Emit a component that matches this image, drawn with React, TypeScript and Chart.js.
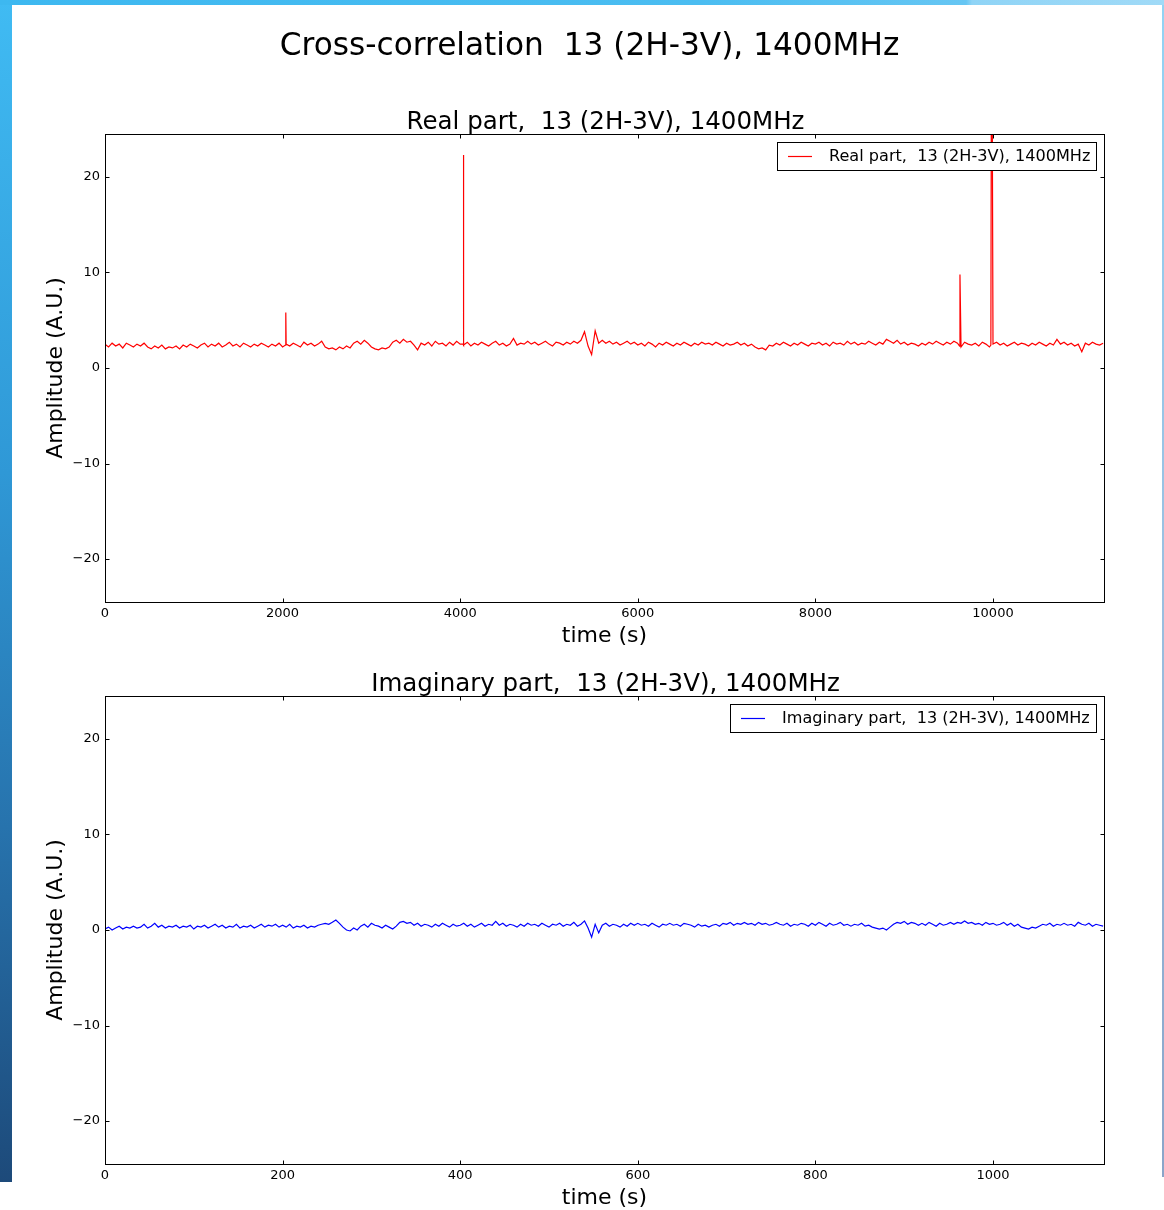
import React, { useEffect, useRef } from 'react';
import { Chart, registerables } from 'chart.js';

Chart.register(...registerables);

const FONT = '"DejaVu Sans", "Liberation Sans", sans-serif';

// ---- text ----
const mainTitle = 'Cross-correlation  13 (2H-3V), 1400MHz';
const realTitle = 'Real part,  13 (2H-3V), 1400MHz';
const imagTitle = 'Imaginary part,  13 (2H-3V), 1400MHz';
const yAxisTitle = 'Amplitude (A.U.)';
const xAxisTitle = 'time (s)';

// ---- axes ----
const yTicks = [-20, -10, 0, 10, 20];
const realXTicks = [0, 2000, 4000, 6000, 8000, 10000];
const imagXTicks = [0, 200, 400, 600, 800, 1000];
const yLimits = [-24.5, 24.5];
const realXLimits = [0, 11250];
const imagXLimits = [0, 1125];

// ---- real part: sampling interval (s) and samples ----
const realStep = 40;
const realValues = [
  2.5, 2.2, 2.6, 2.3, 2.5, 2.1, 2.6, 2.4, 2.2, 2.5,
  2.3, 2.6, 2.2, 2.0, 2.3, 2.1, 2.4, 2.0, 2.2, 2.1,
  2.3, 2.0, 2.4, 2.2, 2.5, 2.3, 2.1, 2.4, 2.6, 2.2,
  2.5, 2.3, 2.6, 2.2, 2.4, 2.7, 2.3, 2.5, 2.2, 2.6,
  2.4, 2.2, 2.5, 2.3, 2.6, 2.4, 2.2, 2.5, 2.3, 2.6,
  2.2, 2.5, 2.3, 2.6, 2.4, 2.2, 2.7, 2.4, 2.6, 2.3,
  2.5, 2.8, 2.2, 2.0, 2.1, 1.9, 2.2, 2.0, 2.3, 2.1,
  2.6, 2.8, 2.5, 2.9, 2.6, 2.2, 2.0, 1.9, 2.1, 2.0,
  2.2, 2.7, 2.9, 2.6, 3.0, 2.7, 2.8, 2.4, 1.9, 2.6,
  2.4, 2.7, 2.3, 2.8, 2.5, 2.6, 2.3, 2.7, 2.4, 2.8,
  2.5, 2.4, 2.7, 2.3, 2.6, 2.4, 2.7, 2.5, 2.3, 2.6,
  2.8, 2.4, 2.6, 2.3, 2.5, 3.1, 2.4, 2.6, 2.5, 2.8,
  2.5, 2.7, 2.4, 2.6, 2.8, 2.5, 2.3, 2.7, 2.6, 2.4,
  2.7, 2.5, 2.8, 2.6, 2.9, 3.8, 2.3, 1.4, 3.9, 2.6,
  2.9, 2.6, 2.8, 2.5, 2.7, 2.4, 2.6, 2.8, 2.5, 2.7,
  2.4, 2.6, 2.3, 2.7, 2.5, 2.2, 2.6, 2.4, 2.7, 2.5,
  2.3, 2.6, 2.4, 2.7, 2.5, 2.3, 2.6, 2.4, 2.7, 2.5,
  2.6, 2.4, 2.7, 2.5, 2.3, 2.6, 2.4, 2.5, 2.7, 2.4,
  2.6, 2.3, 2.5, 2.2, 2.0, 2.1, 1.9, 2.4, 2.3, 2.6,
  2.4, 2.7, 2.5, 2.3, 2.6, 2.4, 2.7, 2.5, 2.3, 2.6,
  2.5, 2.7, 2.4, 2.6, 2.3, 2.7, 2.5, 2.6, 2.4, 2.8,
  2.5, 2.7, 2.4, 2.6, 2.5, 2.8, 2.6, 2.4, 2.7, 2.5,
  3.0, 2.8, 2.6, 2.9, 2.5, 2.7, 2.4, 2.6, 2.5, 2.3,
  2.6, 2.4, 2.7, 2.5, 2.8, 2.6, 2.4, 2.7, 2.5, 2.8,
  2.6, 2.2, 2.7, 2.5, 2.4, 2.6, 2.3, 2.7, 2.5, 2.2,
  2.5, 2.7, 2.4, 2.6, 2.3, 2.5, 2.7, 2.4, 2.6, 2.5,
  2.3, 2.6, 2.4, 2.7, 2.5, 2.3, 2.6, 2.4, 3.0, 2.5,
  2.7, 2.4, 2.6, 2.3, 2.5, 1.7, 2.6, 2.4, 2.7, 2.5,
  2.4, 2.6,
];
// narrow spikes between regular samples
const realSpikeTimes = [2032, 2036, 4032, 4036, 9624, 9628, 9976, 9982, 9990];
const realSpikeValues = [2.4, 5.8, 2.5, 22.3, 2.3, 9.8, 2.4, 32, 32];

// ---- imaginary part: sampling interval (s) and samples ----
const imagStep = 4;
const imagValues = [
  0.1, 0.3, 0.0, 0.2, 0.4, 0.1, 0.3, 0.2, 0.4, 0.2,
  0.3, 0.6, 0.2, 0.4, 0.7, 0.3, 0.5, 0.2, 0.4, 0.3,
  0.5, 0.2, 0.4, 0.3, 0.5, 0.1, 0.4, 0.3, 0.5, 0.2,
  0.4, 0.6, 0.3, 0.5, 0.2, 0.4, 0.3, 0.6, 0.2, 0.4,
  0.3, 0.5, 0.2, 0.4, 0.6, 0.3, 0.5, 0.4, 0.6, 0.3,
  0.5, 0.3, 0.6, 0.2, 0.4, 0.3, 0.5, 0.2, 0.4, 0.3,
  0.5, 0.6, 0.7, 0.6, 0.8, 1.05, 0.7, 0.3, 0.0, -0.1,
  0.2, 0.0, 0.4, 0.6, 0.3, 0.7, 0.5, 0.4, 0.2, 0.5,
  0.3, 0.1, 0.4, 0.8, 0.9, 0.7, 0.8, 0.5, 0.7, 0.4,
  0.6, 0.5, 0.3, 0.6, 0.4, 0.7, 0.5, 0.3, 0.6, 0.4,
  0.5, 0.7, 0.4, 0.6, 0.3, 0.5, 0.7, 0.4, 0.6, 0.5,
  0.9, 0.5, 0.7, 0.4, 0.6, 0.5, 0.3, 0.6, 0.4, 0.7,
  0.5, 0.6, 0.4, 0.7, 0.5, 0.3, 0.6, 0.5, 0.7, 0.4,
  0.6, 0.5, 0.8, 0.4, 0.6, 0.95, 0.2, -0.75, 0.6, -0.3,
  0.5, 0.7, 0.4, 0.6, 0.5, 0.3, 0.6, 0.4, 0.7, 0.5,
  0.7, 0.5, 0.6, 0.4, 0.7, 0.5, 0.3, 0.6, 0.5, 0.7,
  0.5, 0.6, 0.4, 0.7, 0.6, 0.5, 0.3, 0.6, 0.4, 0.5,
  0.3, 0.5, 0.6, 0.4, 0.7, 0.6, 0.8, 0.5, 0.7, 0.6,
  0.8, 0.6, 0.7, 0.5, 0.8, 0.6, 0.7, 0.5, 0.6, 0.8,
  0.6, 0.5, 0.7, 0.4, 0.6, 0.5, 0.7, 0.6, 0.4, 0.7,
  0.5, 0.8, 0.6, 0.4, 0.7, 0.5, 0.6, 0.8, 0.5, 0.6,
  0.4, 0.6, 0.5, 0.7, 0.4, 0.5, 0.3, 0.2, 0.1, 0.2,
  0.0, 0.3, 0.6, 0.8, 0.7, 0.9, 0.6, 0.8, 0.7, 0.5,
  0.7, 0.5, 0.8, 0.6, 0.4, 0.7, 0.5, 0.6, 0.8, 0.6,
  0.8, 0.7, 0.95, 0.7, 0.8, 0.6, 0.7, 0.5, 0.8, 0.6,
  0.7, 0.5, 0.6, 0.8, 0.5, 0.7, 0.4, 0.6, 0.3, 0.2,
  0.1, 0.3, 0.2, 0.4, 0.6, 0.5, 0.7, 0.4, 0.6, 0.5,
  0.7, 0.5, 0.6, 0.4, 0.8, 0.6, 0.5, 0.7, 0.4, 0.6,
  0.5, 0.4,
];

type Pt = { x: number; y: number };

function buildPoints(step: number, values: number[], extraT: number[] = [], extraV: number[] = []): Pt[] {
  const pts: Pt[] = values.map((v, i) => ({ x: i * step, y: v }));
  extraT.forEach((t, i) => pts.push({ x: t, y: extraV[i] }));
  pts.sort((a, b) => a.x - b.x);
  return pts;
}

const fmt = (v: number | string) => {
  const n = Number(v);
  return n < 0 ? '\u2212' + Math.abs(n) : String(n);
};

// Titles drawn on canvas
const titlesPlugin = {
  id: 'figTitles',
  afterDraw(chart: any, _args: any, opts: any) {
    const { ctx, chartArea } = chart;
    ctx.save();
    ctx.fillStyle = '#000';
    ctx.textBaseline = 'alphabetic';
    ctx.textAlign = 'center';
    if (opts.main) {
      ctx.font = `31.2px ${FONT}`;
      ctx.fillText(opts.main, opts.mainX, opts.mainY);
    }
    if (opts.sub) {
      ctx.font = `24.5px ${FONT}`;
      ctx.fillText(opts.sub, (chartArea.left + chartArea.right) / 2 + 1, opts.subY);
    }
    ctx.restore();
  },
};

// matplotlib-style frame with inward ticks on all four sides
const framePlugin = {
  id: 'mplFrame',
  afterDraw(chart: any) {
    const { ctx, chartArea: a, scales } = chart;
    ctx.save();
    ctx.strokeStyle = '#000';
    ctx.lineWidth = 1;
    const L = Math.round(a.left) + 0.5;
    const R = Math.round(a.right) + 0.5;
    const T = Math.round(a.top) + 0.5;
    const B = Math.round(a.bottom) + 0.5;
    const len = 4;
    ctx.beginPath();
    scales.x.ticks.forEach((t: any) => {
      const px = Math.round(scales.x.getPixelForValue(t.value)) + 0.5;
      ctx.moveTo(px, B); ctx.lineTo(px, B - len);
      ctx.moveTo(px, T); ctx.lineTo(px, T + len);
    });
    scales.y.ticks.forEach((t: any) => {
      const py = Math.round(scales.y.getPixelForValue(t.value)) + 0.5;
      ctx.moveTo(L, py); ctx.lineTo(L + len, py);
      ctx.moveTo(R, py); ctx.lineTo(R - len, py);
    });
    ctx.stroke();
    ctx.strokeRect(L, T, R - L, B - T);
    ctx.restore();
  },
};

// legend box inside the axes, upper right
const boxLegendPlugin = {
  id: 'boxLegend',
  afterDraw(chart: any, _args: any, opts: any) {
    const { ctx, chartArea: a } = chart;
    ctx.save();
    ctx.font = `16.1px ${FONT}`;
    const tw = ctx.measureText(opts.text).width;
    const w = Math.round(11 + 24 + 17 + tw + 6);
    const h = 28;
    const right = Math.round(a.right) - 8;
    const top = Math.round(a.top) + 8;
    const left = right - w;
    ctx.fillStyle = '#fff';
    ctx.fillRect(left, top, w, h);
    ctx.strokeStyle = '#000';
    ctx.lineWidth = 1;
    ctx.strokeRect(left + 0.5, top + 0.5, w, h);
    ctx.strokeStyle = opts.color;
    ctx.lineWidth = 1.2;
    ctx.beginPath();
    ctx.moveTo(left + 11, top + 14.5);
    ctx.lineTo(left + 35, top + 14.5);
    ctx.stroke();
    ctx.fillStyle = '#000';
    ctx.textAlign = 'left';
    ctx.textBaseline = 'middle';
    ctx.fillText(opts.text, left + 52, top + 15);
    ctx.restore();
  },
};

function makeConfig(p: {
  points: Pt[]; color: string; label: string; sub: string; subY: number;
  main?: string; xTicks: number[]; xLim: number[]; padTop: number; xAxisH: number; xTitlePad: number;
}): any {
  return {
    type: 'line',
    data: {
      datasets: [{
        label: p.label,
        data: p.points,
        borderColor: p.color,
        backgroundColor: p.color,
        borderWidth: 1.2,
        pointRadius: 0,
        tension: 0,
        fill: false,
        clip: 0,
      }],
    },
    options: {
      animation: false,
      responsive: false,
      devicePixelRatio: 1,
      events: [],
      layout: { padding: { top: p.padTop, right: 60, left: 0, bottom: 0 } },
      plugins: {
        legend: { display: false },
        tooltip: { enabled: false },
        title: { display: false },
        figTitles: { main: p.main, mainX: 589.5, mainY: 55, sub: p.sub, subY: p.subY },
        boxLegend: { text: p.label, color: p.color },
      },
      scales: {
        x: {
          type: 'linear',
          min: p.xLim[0],
          max: p.xLim[1],
          afterBuildTicks: (s: any) => { s.ticks = p.xTicks.map((v) => ({ value: v })); },
          afterFit: (s: any) => { s.height = p.xAxisH; s.paddingLeft = 0; s.paddingRight = 0; },
          grid: { display: false, drawTicks: false },
          border: { display: false },
          ticks: {
            autoSkip: false, maxRotation: 0, minRotation: 0, padding: 4, color: '#000',
            font: { family: FONT, size: 13 }, callback: fmt,
          },
          title: {
            display: true, text: xAxisTitle, color: '#000',
            font: { family: FONT, size: 22, lineHeight: 1 },
            padding: { top: 0, bottom: p.xTitlePad },
          },
        },
        y: {
          type: 'linear',
          min: yLimits[0],
          max: yLimits[1],
          afterBuildTicks: (s: any) => { s.ticks = yTicks.map((v) => ({ value: v })); },
          afterFit: (s: any) => { s.width = 105; s.paddingTop = 0; s.paddingBottom = 0; },
          grid: { display: false, drawTicks: false },
          border: { display: false },
          ticks: {
            autoSkip: false, padding: 5, color: '#000',
            font: { family: FONT, size: 13 }, callback: fmt,
          },
          title: {
            display: true, text: yAxisTitle, color: '#000',
            font: { family: FONT, size: 22, lineHeight: 1 },
            padding: { top: 45, bottom: 0 },
          },
        },
      },
    },
    plugins: [framePlugin, boxLegendPlugin, titlesPlugin],
  };
}

function ChartCanvas({ config, width, height, top }: { config: any; width: number; height: number; top: number }) {
  const ref = useRef<HTMLCanvasElement | null>(null);
  useEffect(() => {
    if (!ref.current) return;
    const chart = new Chart(ref.current, config);
    return () => chart.destroy();
  }, []);
  return (
    <canvas
      ref={ref}
      width={width}
      height={height}
      style={{ position: 'absolute', left: 0, top, width, height, display: 'block' }}
    />
  );
}

export default function App() {
  const realPoints = buildPoints(realStep, realValues, realSpikeTimes, realSpikeValues);
  const imagPoints = buildPoints(imagStep, imagValues);

  const cfgReal = makeConfig({
    points: realPoints, color: '#ff0000', label: realTitle, sub: realTitle, subY: 129,
    main: mainTitle, xTicks: realXTicks, xLim: realXLimits, padTop: 134, xAxisH: 58, xTitlePad: 13,
  });
  const cfgImag = makeConfig({
    points: imagPoints, color: '#0000ff', label: imagTitle, sub: imagTitle, subY: 31,
    xTicks: imagXTicks, xLim: imagXLimits, padTop: 36, xAxisH: 46, xTitlePad: 1,
  });

  return (
    <div style={{ position: 'absolute', left: 0, top: 0, width: 1164, height: 1210, overflow: 'hidden', background: '#fff' }}>
      <div style={{ position: 'absolute', left: 0, top: 0, width: 12, height: 1182,
        background: 'linear-gradient(to bottom, #40bbf3 0%, #2f98d6 40%, #2773ad 70%, #1d4a7a 100%)' }} />
      <div style={{ position: 'absolute', left: 0, top: 0, width: 1164, height: 5,
        background: 'linear-gradient(to right, #3db8f0 0%, #4bbdf1 60%, #66c6f3 83%, #8fd4f6 83.5%, #a0daf7 100%)' }} />
      <div style={{ position: 'absolute', left: 1162, top: 5, width: 2, height: 1172,
        background: 'linear-gradient(to bottom, #92d3f4 0%, #9bbfe0 50%, #8aa5c9 100%)' }} />
      <ChartCanvas config={cfgReal} width={1164} height={660} top={0} />
      <ChartCanvas config={cfgImag} width={1164} height={550} top={660} />
    </div>
  );
}
